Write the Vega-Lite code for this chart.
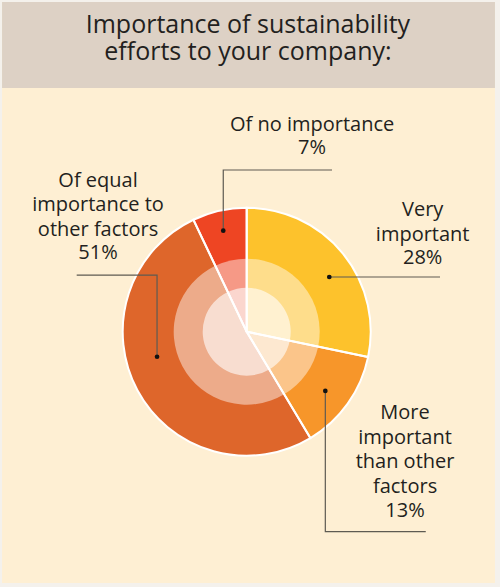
{
  "$schema": "https://vega.github.io/schema/vega-lite/v6.json",
  "width": 500,
  "height": 587,
  "autosize": {"type": "fit", "contains": "padding"},
  "padding": 0,
  "background": "#F4F1EC",
  "view": {"stroke": null},
  "datasets": {
    "panels": [
      {"part": "page", "x": -197.3, "x2": 200.2, "y": -202.7, "y2": 265.9},
      {"part": "band", "x": -197.3, "x2": 200.2, "y": 196.5, "y2": 265.9}
    ],
    "slices": [
      {"answer": "Very important", "share": 28, "rank": 1},
      {"answer": "More important than other factors", "share": 13, "rank": 2},
      {"answer": "Of equal importance to other factors", "share": 51, "rank": 3},
      {"answer": "Of no importance", "share": 7, "rank": 4}
    ],
    "leaders": [
      {"id": "none", "step": 1, "x": 68.8, "y": 130.4},
      {"id": "none", "step": 2, "x": -18.9, "y": 130.4},
      {"id": "none", "step": 3, "x": -18.9, "y": 81.5},
      {"id": "very", "step": 1, "x": 155.9, "y": 44.1},
      {"id": "very", "step": 2, "x": 66.6, "y": 44.1},
      {"id": "more", "step": 1, "x": 144.4, "y": -161.3},
      {"id": "more", "step": 2, "x": 63.4, "y": -161.3},
      {"id": "more", "step": 3, "x": 63.4, "y": -47.8},
      {"id": "equal", "step": 1, "x": -137.1, "y": 45.7},
      {"id": "equal", "step": 2, "x": -72.3, "y": 45.7},
      {"id": "equal", "step": 3, "x": -72.3, "y": -20.2}
    ],
    "dots": [
      {"id": "none", "x": -18.9, "y": 81.5},
      {"id": "very", "x": 66.6, "y": 44.1},
      {"id": "more", "x": 63.4, "y": -47.8},
      {"id": "equal", "x": -72.3, "y": -20.2}
    ],
    "labels": [
      {"text": "Of no importance", "x": 52.7, "y": 166.7},
      {"text": "7%", "x": 52.7, "y": 147.8},
      {"text": "Of equal", "x": -119.9, "y": 121.5},
      {"text": "importance to", "x": -119.9, "y": 102.2},
      {"text": "other factors", "x": -119.9, "y": 82.3},
      {"text": "51%", "x": -119.9, "y": 63.2},
      {"text": "Very", "x": 141.9, "y": 98.1},
      {"text": "important", "x": 141.9, "y": 78.3},
      {"text": "28%", "x": 141.9, "y": 59.4},
      {"text": "More", "x": 127.7, "y": -65.6},
      {"text": "important", "x": 127.7, "y": -85.5},
      {"text": "than other", "x": 127.7, "y": -105.1},
      {"text": "factors", "x": 127.7, "y": -125.0},
      {"text": "13%", "x": 127.7, "y": -144.6}
    ],
    "heading": [
      {"text": "Importance of sustainability", "x": 1, "y": 247.3},
      {"text": "efforts to your company:", "x": 1, "y": 225.6}
    ]
  },
  "layer": [
    {
      "data": {"name": "panels"},
      "mark": {"type": "rect"},
      "encoding": {
        "x": {"field": "x", "type": "quantitative", "axis": null,
              "scale": {"domain": [-198.95, 204.27], "nice": false, "zero": false}},
        "x2": {"field": "x2"},
        "y": {"field": "y", "type": "quantitative", "axis": null,
              "scale": {"domain": [-205.89, 267.5], "nice": false, "zero": false}},
        "y2": {"field": "y2"},
        "color": {"field": "part", "type": "nominal", "legend": null,
                  "scale": {"domain": ["page", "band"], "range": ["#FEEFD3", "#DDD1C5"]}}
      }
    },
    {
      "data": {"name": "slices"},
      "mark": {"type": "arc", "outerRadius": 124, "innerRadius": 0},
      "encoding": {
        "x": {"datum": 0, "type": "quantitative"},
        "y": {"datum": 0, "type": "quantitative"},
        "theta": {"field": "share", "type": "quantitative", "stack": true},
        "order": {"field": "rank", "type": "quantitative"},
        "color": {"field": "answer", "type": "nominal", "legend": null,
                  "scale": {"domain": ["Very important", "More important than other factors", "Of equal importance to other factors", "Of no importance"],
                            "range": ["#FDC22C", "#F7962A", "#DE662B", "#EE4523"]}}
      }
    },
    {
      "data": {"name": "slices"},
      "mark": {"type": "arc", "outerRadius": 73, "innerRadius": 0, "fill": "white", "fillOpacity": 0.45},
      "encoding": {
        "x": {"datum": 0, "type": "quantitative"},
        "y": {"datum": 0, "type": "quantitative"},
        "theta": {"field": "share", "type": "quantitative", "stack": true},
        "order": {"field": "rank", "type": "quantitative"}
      }
    },
    {
      "data": {"name": "slices"},
      "mark": {"type": "arc", "outerRadius": 44, "innerRadius": 0, "fill": "white", "fillOpacity": 0.6},
      "encoding": {
        "x": {"datum": 0, "type": "quantitative"},
        "y": {"datum": 0, "type": "quantitative"},
        "theta": {"field": "share", "type": "quantitative", "stack": true},
        "order": {"field": "rank", "type": "quantitative"}
      }
    },
    {
      "data": {"name": "slices"},
      "mark": {"type": "arc", "outerRadius": 124, "innerRadius": 0, "fill": "transparent", "stroke": "white", "strokeWidth": 2},
      "encoding": {
        "x": {"datum": 0, "type": "quantitative"},
        "y": {"datum": 0, "type": "quantitative"},
        "theta": {"field": "share", "type": "quantitative", "stack": true},
        "order": {"field": "rank", "type": "quantitative"}
      }
    },
    {
      "data": {"name": "leaders"},
      "mark": {"type": "line", "color": "#5E5B52", "strokeWidth": 1.2},
      "encoding": {
        "x": {"field": "x", "type": "quantitative"},
        "y": {"field": "y", "type": "quantitative"},
        "detail": {"field": "id"},
        "order": {"field": "step", "type": "quantitative"}
      }
    },
    {
      "data": {"name": "dots"},
      "mark": {"type": "point", "filled": true, "color": "#111111", "opacity": 1, "size": 22},
      "encoding": {
        "x": {"field": "x", "type": "quantitative"},
        "y": {"field": "y", "type": "quantitative"}
      }
    },
    {
      "data": {"name": "labels"},
      "mark": {"type": "text", "font": "Open Sans", "fontSize": 20, "align": "center", "baseline": "middle", "color": "#231F20"},
      "encoding": {
        "x": {"field": "x", "type": "quantitative"},
        "y": {"field": "y", "type": "quantitative"},
        "text": {"field": "text"}
      }
    },
    {
      "data": {"name": "heading"},
      "mark": {"type": "text", "font": "Open Sans", "fontSize": 25, "align": "center", "baseline": "middle", "color": "#231F20"},
      "encoding": {
        "x": {"field": "x", "type": "quantitative"},
        "y": {"field": "y", "type": "quantitative"},
        "text": {"field": "text"}
      }
    }
  ],
  "resolve": {"scale": {"color": "independent"}}
}
